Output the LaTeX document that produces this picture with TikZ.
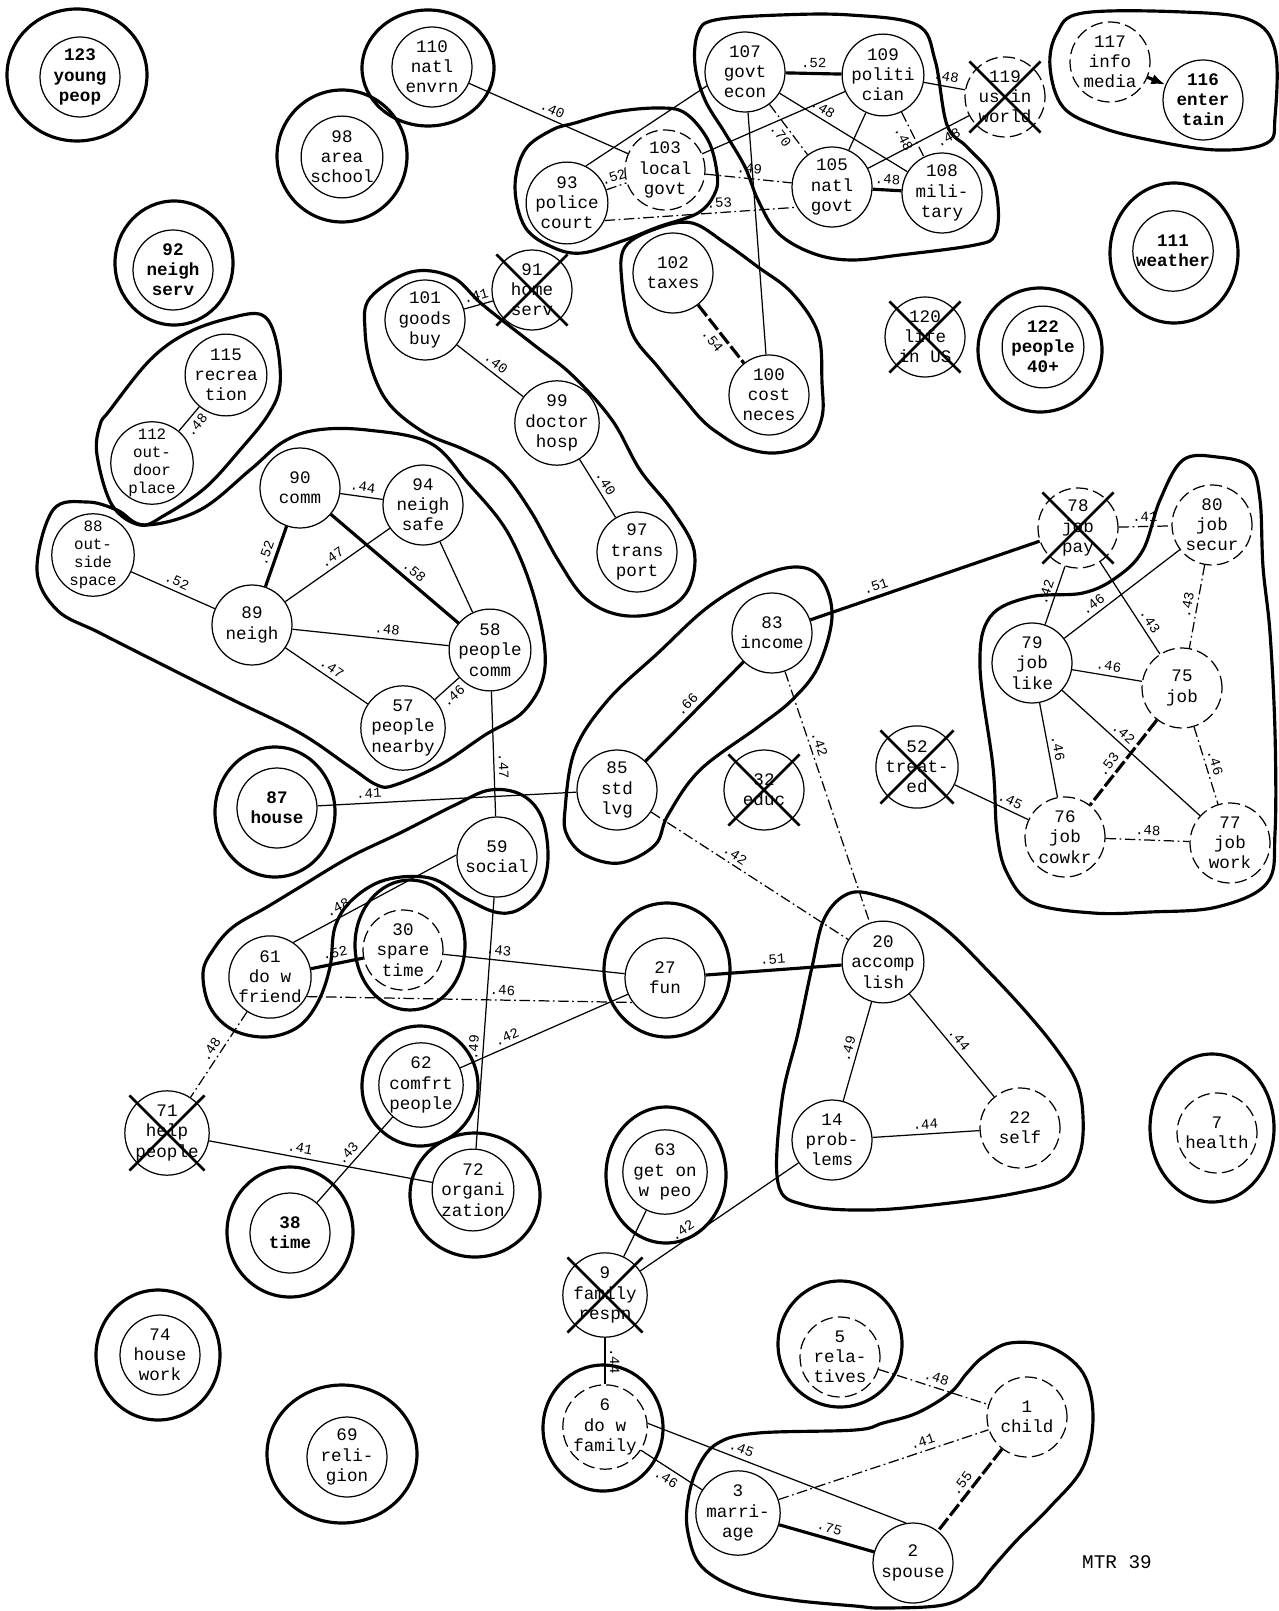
\documentclass[tikz,border=0pt]{standalone}
\usepackage{fontspec}
\setmonofont{Liberation Mono}
\usetikzlibrary{calc,arrows.meta}
\newcommand\conceptfont{\ttfamily\fontsize{10}{11.5}\selectfont}
\newcommand\tightfont{\ttfamily\fontsize{9}{10.2}\selectfont}
\newcommand\corrfont{\ttfamily\fontsize{8}{8}\selectfont}
\tikzset{
	concept/.style={
		draw,
		circle,
		minimum size=1.6cm,
		inner sep=0pt,
		align=center,
		line width=0.7pt,
		font=\conceptfont
	},
	faded/.style={concept, dash pattern=on 7pt off 3pt},
	boldconcept/.style={concept, font=\conceptfont\bfseries},
	fourline/.style={concept, font=\tightfont},
	cluster/.style={draw, line width=1.8pt},
	link/.style={line width=0.7pt},
	strong/.style={line width=1.8pt},
	dashlink/.style={line width=0.7pt, dash pattern=on 6pt off 2pt on 1pt off 2pt},
	corr/.style={font=\corrfont, sloped, above, inner sep=2.5pt},
	corrb/.style={font=\corrfont, sloped, below, inner sep=2.5pt},
	xline/.style={line width=1.5pt}
}

\begin{document}
\begin{tikzpicture}[x=0.02cm, y=-0.02cm]
	\useasboundingbox (0,0) rectangle (1278,1611);

	% Concepts, top band
	\node[boldconcept] (n123) at (80,77) {123\\young\\peop};
	\node[concept] (n110) at (432,67) {110\\natl\\envrn};
	\node[concept] (n98) at (342,157) {98\\area\\school};
	\node[boldconcept] (n92) at (173,270) {92\\neigh\\serv};
	\node[concept] (n115) at (226,375) {115\\recrea\\tion};
	\node[fourline] (n112) at (152,463) {112\\out-\\door\\place};
	\node[concept] (n107) at (745,72) {107\\govt\\econ};
	\node[concept] (n109) at (883,75) {109\\politi\\cian};
	\node[faded] (n119) at (1005,97) {119\\us in\\world};
	\node[faded] (n117) at (1110,62) {117\\info\\media};
	\node[boldconcept] (n116) at (1203,100) {116\\enter\\tain};
	\node[faded] (n103) at (665,170) {103\\local\\govt};
	\node[concept] (n93) at (567,203) {93\\police\\court};
	\node[concept] (n105) at (832,187) {105\\natl\\govt};
	\node[concept] (n108) at (942,193) {108\\mili-\\tary};
	\node[concept] (n91) at (532,290) {91\\home\\serv};
	\node[concept] (n102) at (673,273) {102\\taxes};
	\node[concept] (n100) at (769,395) {100\\cost\\neces};
	\node[concept] (n101) at (425,320) {101\\goods\\buy};
	\node[concept] (n99) at (557,423) {99\\doctor\\hosp};
	\node[concept] (n97) at (637,552) {97\\trans\\port};
	\node[boldconcept] (n111) at (1173,251) {111\\weather};
	\node[concept] (n120) at (925,337) {120\\life\\in US};
	\node[boldconcept] (n122) at (1043,347) {122\\people\\40+};

	% Concepts, middle band
	\node[concept] (n90) at (300,488) {90\\comm};
	\node[concept] (n94) at (423,505) {94\\neigh\\safe};
	\node[fourline] (n88) at (93,555) {88\\out-\\side\\space};
	\node[concept] (n89) at (252,625) {89\\neigh};
	\node[concept] (n58) at (490,650) {58\\people\\comm};
	\node[concept] (n57) at (403,728) {57\\people\\nearby};
	\node[boldconcept] (n87) at (277,808) {87\\house};
	\node[concept] (n83) at (772,633) {83\\income};
	\node[concept] (n85) at (617,790) {85\\std\\lvg};
	\node[concept] (n32) at (764,790) {32\\educ};
	\node[faded] (n78) at (1078,528) {78\\job\\pay};
	\node[faded] (n80) at (1212,525) {80\\job\\secur};
	\node[concept] (n79) at (1032,663) {79\\job\\like};
	\node[faded] (n75) at (1182,688) {75\\job};
	\node[concept] (n52) at (917,767) {52\\treat-\\ed};
	\node[faded] (n76) at (1065,837) {76\\job\\cowkr};
	\node[faded] (n77) at (1230,843) {77\\job\\work};
	\node[concept] (n59) at (497,857) {59\\social};

	% Concepts, lower band
	\node[concept] (n61) at (270,977) {61\\do w\\friend};
	\node[faded] (n30) at (403,950) {30\\spare\\time};
	\node[concept] (n27) at (665,978) {27\\fun};
	\node[concept] (n20) at (883,962) {20\\accomp\\lish};
	\node[concept] (n62) at (421,1085) {62\\comfrt\\people};
	\node[concept] (n71) at (167,1133) {71\\help\\people};
	\node[concept] (n72) at (473,1190) {72\\organi\\zation};
	\node[boldconcept] (n38) at (290,1233) {38\\time};
	\node[concept] (n63) at (665,1172) {63\\get on\\w peo};
	\node[concept] (n14) at (832,1140) {14\\prob-\\lems};
	\node[faded] (n22) at (1020,1128) {22\\self};
	\node[faded] (n7) at (1217,1133) {7\\health};
	\node[concept] (n9) at (605,1295) {9\\family\\respn};
	\node[concept] (n74) at (160,1355) {74\\house\\work};
	\node[concept] (n69) at (347,1457) {69\\reli-\\gion};
	\node[faded] (n5) at (840,1357) {5\\rela-\\tives};
	\node[faded] (n6) at (605,1427) {6\\do w\\family};
	\node[faded] (n1) at (1027,1417) {1\\child};
	\node[concept] (n3) at (738,1513) {3\\marri-\\age};
	\node[concept] (n2) at (913,1563) {2\\spouse};
	\node[font=\ttfamily\fontsize{11}{11}\selectfont] (mtr) at (1117,1562) {MTR 39};

	% Crossed-out concepts
	\foreach \x in {n91,n119,n120,n78,n52,n32,n71,n9} {
		\draw[xline] ($(\x.north west)!-0.12!(\x.south east)$) -- ($(\x.south east)!-0.12!(\x.north west)$);
		\draw[xline] ($(\x.north east)!-0.12!(\x.south west)$) -- ($(\x.south west)!-0.12!(\x.north east)$);
	}

	% Links, government group
	\draw[link] (n110) -- node[corr]{.40} (n103);
	\draw[link] (n93.63) -- (n107.200);
	\draw[strong] (n107) -- node[corr]{.52} (n109);
	\draw[link] (n107) -- node[corr, pos=0.3]{.48} (n108);
	\draw[dashlink] (n107) -- node[corrb]{.70} (n105);
	\draw[link] (n107) -- (n100);
	\draw[link] (n103) -- (n109);
	\draw[link] (n109) -- (n105);
	\draw[dashlink] (n109) -- node[corrb]{.48} (n108);
	\draw[strong] (n105) -- node[corr]{.48} (n108);
	\draw[link] (n109) -- node[corr]{.48} (n119);
	\draw[link] (n119) -- node[corrb, pos=0.25]{.48} (n105);
	\draw[dashlink] (n103) -- node[corr]{.49} (n105);
	\draw[dashlink] (n93) -- node[corr]{.52} (n103);
	\draw[dashlink] (n93.-25) -- node[corr, pos=0.6]{.53} (n105.210);
	\draw[strong, dash pattern=on 8pt off 2pt] (n102) -- node[corrb]{.54} (n100);
	\draw[link] (n91) -- node[corr]{.41} (n101);
	\draw[link] (n101) -- node[corr]{.40} (n99);
	\draw[link] (n99) -- node[corr]{.40} (n97);
	\draw[link] (n115) -- node[corrb]{.48} (n112);
	\draw[strong, -{Latex[length=8pt]}] (n117) -- (n116);

	% Links, neighbourhood group
	\draw[link] (n90) -- node[corr]{.44} (n94);
	\draw[strong] (n90) -- node[corr]{.52} (n89);
	\draw[strong] (n90) -- node[corr, pos=0.6]{.58} (n58);
	\draw[link] (n88) -- node[corr]{.52} (n89);
	\draw[link] (n89) -- node[corr]{.47} (n94);
	\draw[link] (n89) -- node[corr, pos=0.6]{.48} (n58);
	\draw[link] (n89) -- node[corr]{.47} (n57);
	\draw[link] (n94) -- (n58);
	\draw[link] (n57) -- node[corrb]{.46} (n58);
	\draw[link] (n58) -- node[corr, pos=0.6]{.47} (n59);
	\draw[link] (n87) -- node[corr, pos=0.2]{.41} (n85);
	\draw[strong] (n83) -- node[corr]{.66} (n85);
	\draw[strong] (n83) -- node[corr, pos=0.3]{.51} (n78);
	\draw[dashlink] (n83) -- node[corr, pos=0.3]{.42} (n20);
	\draw[dashlink] (n85) -- node[corr, pos=0.4]{.42} (n20);

	% Links, leisure group
	\draw[link] (n61.56) -- node[corr, pos=0.3]{.48} (n59.177);
	\draw[strong] (n61) -- node[corr]{.52} (n30);
	\draw[dashlink] (n61.-28) -- node[corr, pos=0.6]{.46} (n27.217);
	\draw[link] (n30) -- node[corr, pos=0.3]{.43} (n27);
	\draw[link] (n62) -- node[corr, pos=0.3]{.42} (n27);
	\draw[link] (n59) -- node[corr, pos=0.6]{.49} (n72);
	\draw[strong] (n27) -- node[corr]{.51} (n20);
	\draw[dashlink] (n61) -- node[corr]{.48} (n71);
	\draw[link] (n71) -- node[corr, pos=0.4]{.41} (n72);
	\draw[link] (n62) -- node[corr]{.43} (n38);

	% Links, self and family group
	\draw[link] (n20) -- node[corr]{.49} (n14);
	\draw[link] (n20) -- node[corr]{.44} (n22);
	\draw[link] (n14) -- node[corr]{.44} (n22);
	\draw[link] (n14) -- node[corr, pos=0.7]{.42} (n9);
	\draw[link] (n63) -- (n9);
	\draw[link] (n9) -- node[corr]{.44} (n6);
	\draw[link] (n6) -- node[corrb]{.46} (n3);
	\draw[link] (n6.5) -- node[corr, pos=0.35]{.45} (n2.100);
	\draw[dashlink] (n3) -- node[corr, pos=0.7]{.41} (n1);
	\draw[strong] (n3) -- node[corr]{.75} (n2);
	\draw[strong, dash pattern=on 8pt off 2pt] (n1) -- node[corr]{.55} (n2);
	\draw[dashlink] (n5) -- node[corr]{.48} (n1);

	% Links, job group
	\draw[dashlink] (n78) -- node[corr]{.41} (n80);
	\draw[link] (n78) -- node[corr]{.42} (n79);
	\draw[link] (n78) -- node[corr, pos=0.7]{.43} (n75);
	\draw[link] (n80) -- node[corr, pos=0.7]{.46} (n79);
	\draw[dashlink] (n80) -- node[corr]{.43} (n75);
	\draw[link] (n79) -- node[corr]{.46} (n75);
	\draw[link] (n79) -- node[corr]{.46} (n76);
	\draw[link] (n79) -- node[corr, pos=0.4]{.42} (n77);
	\draw[strong, dash pattern=on 8pt off 2pt] (n75) -- node[corr, pos=0.6]{.53} (n76);
	\draw[dashlink] (n75) -- node[corr]{.46} (n77);
	\draw[dashlink] (n76) -- node[corr]{.48} (n77);
	\draw[link] (n52) -- node[corr, pos=0.7]{.45} (n76);

	% Cluster outlines round single concepts
	\draw[cluster] (77,75) ellipse (70 and 66);
	\draw[cluster] (428,68) ellipse (66 and 58);
	\draw[cluster] (342,156) ellipse (65 and 66);
	\draw[cluster] (174,263) ellipse (59 and 62);
	\draw[cluster] (1174,253) ellipse (64 and 70);
	\draw[cluster] (1040,350) ellipse (62 and 62);
	\draw[cluster] (275,812) ellipse (60 and 65);
	\draw[cluster] (410,945) ellipse (55 and 65);
	\draw[cluster] (667,970) ellipse (63 and 67);
	\draw[cluster] (420,1086) ellipse (58 and 60);
	\draw[cluster] (475,1195) ellipse (65 and 62);
	\draw[cluster] (290,1232) ellipse (63 and 65);
	\draw[cluster] (666,1175) ellipse (60 and 68);
	\draw[cluster] (1212,1128) ellipse (62 and 74);
	\draw[cluster] (158,1355) ellipse (62 and 65);
	\draw[cluster] (342,1454) ellipse (75 and 69);
	\draw[cluster] (603,1428) ellipse (60 and 63);
	\draw[cluster] (840,1344) ellipse (62 and 63);

	% Cluster outlines round groups
	\draw[cluster] plot[smooth cycle, tension=0.6] coordinates {(110,410) (150,360) (187,333) (230,318) (262,315) (276,340) (280,385) (268,415) (240,450) (205,488) (165,515) (140,525) (112,505) (97,455) (100,425)};
	\draw[cluster] plot[smooth cycle, tension=0.6] coordinates {(698,33) (715,20) (780,15) (850,15) (917,25) (935,60) (947,125) (967,147) (990,173) (998,205) (995,235) (975,245) (900,255) (850,260) (812,253) (778,233) (758,200) (745,167) (725,133) (705,100) (695,65)};
	\draw[cluster] plot[smooth cycle, tension=0.6] coordinates {(575,123) (615,112) (658,108) (685,113) (708,140) (717,173) (715,193) (698,213) (658,227) (625,240) (582,253) (552,247) (525,227) (515,187) (525,150) (552,130)};
	\draw[cluster] plot[smooth cycle, tension=0.6] coordinates {(625,247) (622,283) (632,333) (658,367) (685,400) (702,420) (718,433) (742,447) (775,453) (808,443) (822,417) (822,383) (818,333) (792,293) (758,267) (725,243) (692,223) (658,228)};
	\draw[cluster] plot[smooth cycle, tension=0.6] coordinates {(370,298) (411,272) (452,277) (483,305) (534,345) (572,375) (612,420) (640,470) (672,510) (694,550) (688,590) (660,612) (620,615) (585,598) (558,560) (530,510) (500,470) (465,450) (425,433) (390,405) (372,370) (365,330)};
	\draw[cluster] plot[smooth cycle, tension=0.6] coordinates {(1057,33) (1083,13) (1183,12) (1250,20) (1275,50) (1275,117) (1267,143) (1217,150) (1150,140) (1100,127) (1063,107) (1050,67)};
	\draw[cluster] plot[smooth cycle, tension=0.6] coordinates {(53,510) (87,502) (117,510) (145,525) (200,510) (250,470) (283,442) (317,430) (367,430) (430,443) (468,483) (508,533) (535,600) (545,667) (525,710) (485,735) (440,765) (395,785) (377,785) (350,767) (300,733) (233,700) (167,667) (100,633) (57,610) (37,570)};
	\draw[cluster] plot[smooth cycle, tension=0.6] coordinates {(565,810) (575,750) (608,700) (658,653) (708,607) (758,577) (798,567) (822,580) (832,617) (818,667) (792,700) (758,727) (700,770) (668,815) (655,845) (620,863) (585,855) (567,835)};
	\draw[cluster] plot[smooth cycle, tension=0.6] coordinates {(213,950) (233,927) (267,907) (300,887) (350,857) (400,833) (455,805) (490,790) (522,795) (542,818) (548,858) (540,890) (518,910) (495,912) (465,898) (430,878) (385,880) (352,900) (335,927) (330,967) (318,1002) (298,1027) (267,1037) (233,1030) (210,1007) (203,973)};
	\draw[cluster] plot[smooth cycle, tension=0.6] coordinates {(850,893) (883,897) (917,910) (950,933) (990,973) (1027,1013) (1057,1050) (1077,1083) (1083,1117) (1080,1153) (1063,1180) (1017,1193) (950,1203) (870,1210) (805,1205) (778,1183) (782,1100) (798,1033) (812,967) (825,917)};
	\draw[cluster] plot[smooth cycle, tension=0.6] coordinates {(855,1430) (883,1423) (917,1413) (950,1393) (967,1373) (983,1357) (1010,1343) (1050,1347) (1083,1373) (1093,1417) (1083,1467) (1050,1507) (1017,1540) (993,1567) (973,1590) (943,1605) (883,1608) (855,1606) (792,1600) (742,1590) (702,1567) (688,1533) (688,1500) (698,1467) (718,1443) (758,1433)};
	\draw[cluster] plot[smooth cycle, tension=0.6] coordinates {(1160,500) (1183,460) (1217,457) (1250,467) (1260,500) (1263,567) (1270,633) (1275,733) (1275,833) (1267,883) (1217,907) (1150,912) (1093,913) (1033,903) (1007,873) (997,833) (993,767) (980,667) (990,617) (1030,597) (1083,593) (1117,577) (1143,550)};

\end{tikzpicture}
\end{document}
